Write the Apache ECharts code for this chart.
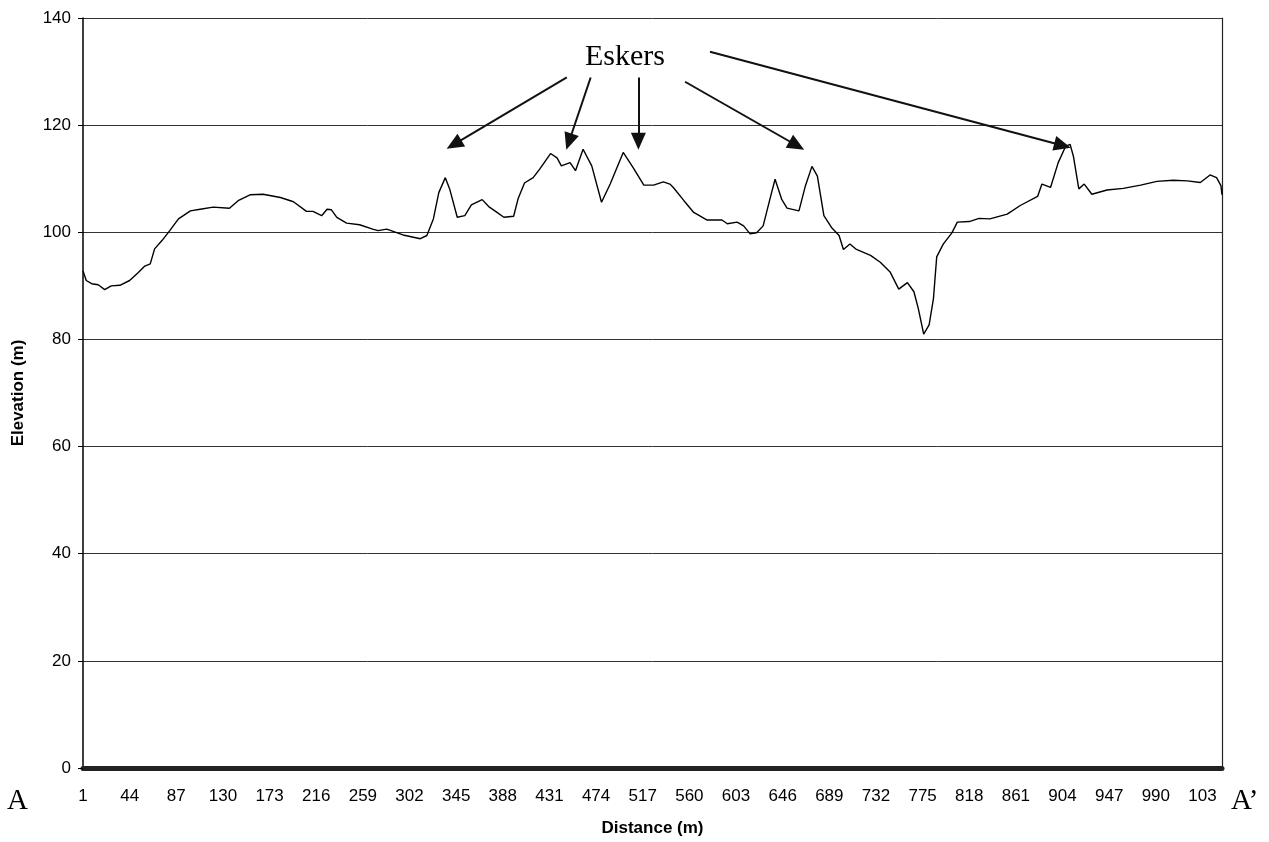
<!DOCTYPE html>
<html>
<head>
<meta charset="utf-8">
<script src="https://cdn.jsdelivr.net/npm/echarts@6/dist/echarts.min.js"></script>
<style>html,body{margin:0;padding:0;background:#fff;}#c{width:1269px;height:842px;}</style>
</head>
<body>
<div id="c"></div>
<script>
// Distance along the profile (m) and elevation (m)
const distance = [1,4,9,15,21,27,35,44,52,58,63,67,74,81,89,100,109,121,136,144,155,167,183,195,207,213,221,226,230,235,244,256,268,273,281,296,312,318,324,329,335,339,346,353,359,369,375,382,389,398,402,408,416,422,432,438,442,450,455,462,470,479,487,499,508,518,527,536,542,545,555,564,576,590,595,604,610,616,622,628,635,639,645,650,661,667,673,678,684,691,698,702,708,714,727,736,745,753,761,767,771,776,781,785,788,794,802,807,818,827,837,853,865,881,885,893,900,907,911,914,919,924,931,945,960,976,991,1006,1019,1031,1040,1046,1050,1051];
const elevation = [92.8,91.0,90.4,90.2,89.3,90.0,90.1,91.0,92.5,93.7,94.1,96.9,98.5,100.3,102.5,104.0,104.3,104.7,104.5,105.9,107.0,107.1,106.5,105.7,103.9,103.9,103.1,104.3,104.2,102.8,101.7,101.4,100.6,100.3,100.6,99.5,98.8,99.4,102.5,107.4,110.2,108.1,102.8,103.1,105.1,106.1,104.8,103.8,102.8,103.0,106.2,109.2,110.2,111.8,114.7,113.9,112.4,113.0,111.5,115.5,112.4,105.6,109.0,114.9,112.1,108.8,108.8,109.4,109.0,108.4,105.9,103.7,102.3,102.3,101.6,101.9,101.2,99.7,99.9,101.2,106.8,109.9,106.2,104.5,104.0,108.7,112.3,110.5,103.1,100.9,99.4,96.8,97.8,96.8,95.7,94.4,92.6,89.4,90.6,88.9,85.8,81.0,82.7,87.6,95.4,97.8,99.9,101.9,102.0,102.6,102.5,103.4,105.0,106.7,109.0,108.4,113.0,116.1,116.4,114.2,108.1,109.0,107.1,107.9,108.2,108.8,109.5,109.7,109.6,109.3,110.7,110.2,108.7,107.0];
const xTickLabels = ['1','44','87','130','173','216','259','302','345','388','431','474','517','560','603','646','689','732','775','818','861','904','947','990','103'];
const yTicks = [0,20,40,60,80,100,120,140];
// Esker arrows: [fromDistance, fromElev, toDistance, toElev]
const eskerArrows = [
  [447,128.9,343,116.4],
  [469,128.9,449,116.9],
  [513,128.9,513,117.0],
  [556,128.1,659,116.2],
  [579,133.7,904,116.2]
];

const chart = echarts.init(document.getElementById('c'));
const lineData = distance.map((d,i)=>[d-1, elevation[i]]);
chart.setOption({
  animation:false,
  backgroundColor:'#fff',
  grid:{left:83,right:47,top:18,bottom:70},
  xAxis:{
    type:'value',min:0,max:1050,interval:43,
    name:'Distance (m)',nameLocation:'middle',nameGap:52,
    nameTextStyle:{fontFamily:'Liberation Sans',fontSize:17,fontWeight:'bold',color:'#000'},
    axisLine:{show:true,onZero:false,lineStyle:{color:'#222',width:5}},
    axisTick:{show:false},
    splitLine:{show:false},
    axisLabel:{margin:20,fontFamily:'Liberation Sans',fontSize:17,color:'#000',
      formatter:function(v){ if(v%43!==0) return ''; const k=v/43; return xTickLabels[k]!==undefined?xTickLabels[k]:''; }}
  },
  yAxis:[{
    type:'value',min:yTicks[0],max:yTicks[yTicks.length-1],interval:20,
    name:'Elevation (m)',nameLocation:'middle',nameGap:56,
    nameTextStyle:{fontFamily:'Liberation Sans',fontSize:17,fontWeight:'bold',color:'#000'},
    axisLine:{show:true,lineStyle:{color:'#000',width:1.5}},
    axisTick:{show:true,length:5,lineStyle:{color:'#000'}},
    axisLabel:{margin:12,fontFamily:'Liberation Sans',fontSize:17,color:'#000'},
    splitLine:{show:true,lineStyle:{color:'#333',width:1}}
  },{
    type:'value',min:0,max:140,interval:20,position:'right',
    axisLine:{show:true,lineStyle:{color:'#222',width:1.2}},
    axisTick:{show:false},axisLabel:{show:false},splitLine:{show:false}
  }],
  series:[{
    type:'line',data:lineData,showSymbol:false,symbol:'none',
    lineStyle:{color:'#000',width:1.4},
    markLine:{
      silent:true,symbol:['none','triangle'],symbolSize:[15,17],
      label:{show:false},
      itemStyle:{color:'#111'},
      lineStyle:{color:'#111',width:2,type:'solid'},
      data:eskerArrows.map(a=>[{coord:[a[0]-1,a[1]]},{coord:[a[2]-1,a[3]]}])
    }
  }],
  graphic:[
    {type:'text',left:585,top:42,style:{text:'Eskers',fontFamily:'Liberation Serif',fontSize:30,fill:'#000'}},
    {type:'text',left:7,top:787,style:{text:'A',fontFamily:'Liberation Serif',fontSize:29,fill:'#000'}},
    {type:'text',left:1231,top:787,style:{text:'A\u2019',fontFamily:'Liberation Serif',fontSize:29,fill:'#000'}}
  ]
});
</script>
</body>
</html>
